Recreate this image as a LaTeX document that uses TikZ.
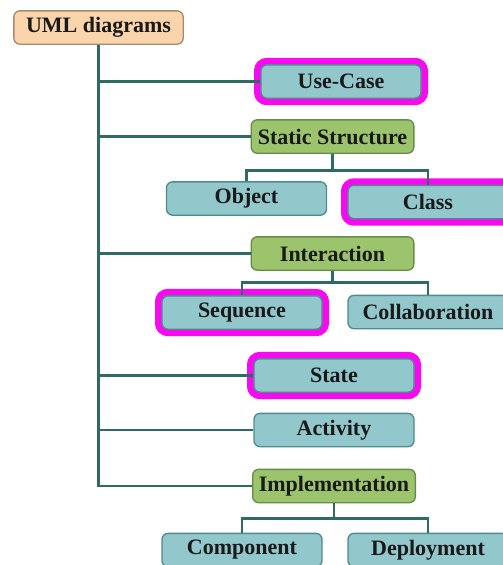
\documentclass[tikz,border=0pt]{standalone}
\usepackage{fontspec}
\setmainfont{Liberation Serif}
\definecolor{peach}{HTML}{FAD4AA}
\definecolor{peachline}{HTML}{A88C72}
\definecolor{teal}{HTML}{92C7CB}
\definecolor{tealline}{HTML}{4F8A8E}
\definecolor{leaf}{HTML}{9CC46C}
\definecolor{leafline}{HTML}{678C48}
\definecolor{wire}{HTML}{2E6B62}
\definecolor{pick}{HTML}{F80AF0}
\begin{document}
\begin{tikzpicture}[x=0.75pt,y=-0.75pt,
    box/.style={rounded corners=4.5pt,line width=1pt,minimum height=25pt,
      font=\fontsize{16.5}{18}\selectfont\bfseries,text=black!90},
    root/.style={box,draw=peachline,fill=peach,minimum width=127pt},
    kind/.style={box,draw=tealline,fill=teal,minimum width=120pt},
    group/.style={box,draw=leafline,fill=leaf,minimum width=122pt},
    picked/.style={preaction={draw=pick,line width=10.5pt}},
    wire/.style={draw=wire,line width=2.2pt}]
  \useasboundingbox (0,0) rectangle (503,565);
  \node[root] (uml) at (98.5,27.5) {UML diagrams};
  \node[kind,picked] (usecase) at (341,81.5) {Use-Case};
  \node[group] (static) at (332.5,136.5) {Static Structure};
  \node[kind] (object) at (246.5,198.5) {Object};
  \node[kind,picked] (class) at (428,202) {Class};
  \node[group] (interaction) at (332.5,253.5) {Interaction};
  \node[kind,picked] (sequence) at (242,312.5) {Sequence};
  \node[kind] (collab) at (428,312) {Collaboration};
  \node[kind,picked] (state) at (334,375.5) {State};
  \node[kind] (activity) at (334,430) {Activity};
  \node[group] (impl) at (334,486) {Implementation};
  \node[kind] (component) at (242,550) {Component};
  \node[kind] (deploy) at (428,550) {Deployment};
  % trunk and branches
  \draw[wire] (uml.south) -- (uml.south |- impl.west) -- (impl.west);
  \foreach \n in {usecase,static,interaction,state,activity}
    \draw[wire] (uml.south |- \n.west) -- (\n.west);
  % sub trees
  \draw[wire] (static.south) -- ++(0,17) -| (object.north);
  \draw[wire] (static.south) -- ++(0,17) -| (class.north);
  \draw[wire] (interaction.south) -- ++(0,12) -| (sequence.north);
  \draw[wire] (interaction.south) -- ++(0,12) -| (collab.north);
  \draw[wire] (impl.south) -- ++(0,15) -| (component.north);
  \draw[wire] (impl.south) -- ++(0,15) -| (deploy.north);
\end{tikzpicture}
\end{document}
